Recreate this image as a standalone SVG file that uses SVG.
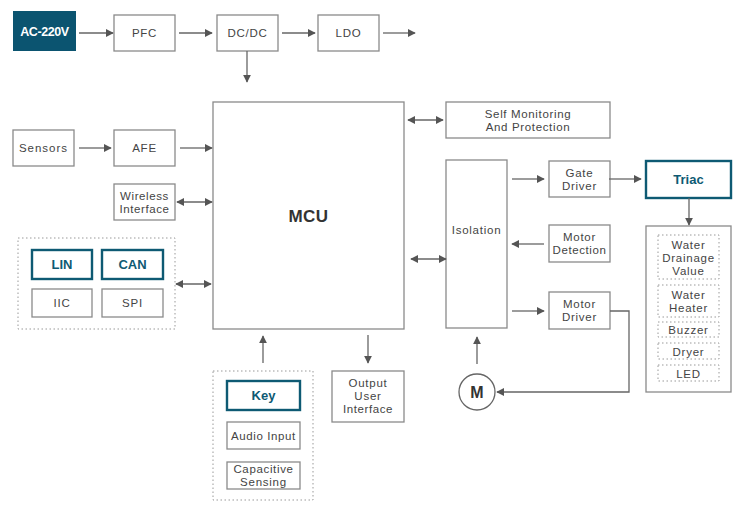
<svg xmlns="http://www.w3.org/2000/svg" width="744" height="510" viewBox="0 0 744 510">
<defs>
<marker id="ah" viewBox="0 0 10 10" refX="9" refY="5" markerWidth="8" markerHeight="8" markerUnits="userSpaceOnUse" orient="auto-start-reverse">
<path d="M0,0 L10,5 L0,10 z" fill="#555"/>
</marker>
<style>
.b{fill:#fff;stroke:#8a8a8a;stroke-width:1.3}
.t{fill:#fff;stroke:#0e5a73;stroke-width:2.4}
.d{fill:none;stroke:#999;stroke-width:1;stroke-dasharray:1.5 2.5}
.l{fill:none;stroke:#666;stroke-width:1.3}
text{font-family:"Liberation Sans",Arial,sans-serif;font-size:11.5px;fill:#444;text-anchor:middle;letter-spacing:0.75px}
.tt{fill:#0e5a73;font-size:13px;font-weight:700;letter-spacing:0}
</style>
</defs>
<rect width="744" height="510" fill="#fff"/>
<g id="ac"><rect x="13" y="11" width="63" height="40" fill="#0b5470"/><text x="44.5" y="36" style="fill:#fff;font-size:12.5px;font-weight:700;letter-spacing:-0.4px">AC-220V</text></g>
<g id="pfc"><rect class="b" x="114" y="15" width="61" height="36"/><text x="144.5" y="37">PFC</text></g>
<g id="dcdc"><rect class="b" x="217" y="15" width="61" height="36"/><text x="247.5" y="37">DC/DC</text></g>
<g id="ldo"><rect class="b" x="318" y="15" width="61" height="36"/><text x="348.5" y="37">LDO</text></g>
<g id="sensors"><rect class="b" x="13" y="130" width="61" height="36"/><text x="43.5" y="152" style="letter-spacing:1px">Sensors</text></g>
<g id="afe"><rect class="b" x="114" y="130" width="61" height="36"/><text x="144.5" y="152">AFE</text></g>
<g id="wireless"><rect class="b" x="114" y="184" width="61" height="36"/><text x="144.5" y="200" style="letter-spacing:0.6px"><tspan x="144.5">Wireless</tspan><tspan x="144.5" dy="13">Interface</tspan></text></g>
<g id="bus"><rect class="d" x="18" y="238" width="157" height="91"/>
<g id="lin"><rect class="t" x="32" y="250" width="60" height="29"/><text class="tt" x="62" y="269">LIN</text></g>
<g id="can"><rect class="t" x="102" y="250" width="61" height="29"/><text class="tt" x="132.5" y="269">CAN</text></g>
<g id="iic"><rect class="b" x="32" y="289" width="60" height="28"/><text x="62" y="307">IIC</text></g>
<g id="spi"><rect class="b" x="102" y="289" width="61" height="28"/><text x="132.5" y="307">SPI</text></g>
</g>
<g id="mcu"><rect class="b" x="213" y="102" width="191" height="227"/><text x="308.5" y="222" style="font-size:17px;font-weight:700;fill:#333;letter-spacing:0.5px">MCU</text></g>
<g id="selfmon"><rect class="b" x="446" y="102" width="164" height="36"/><text x="528" y="118" style="letter-spacing:0.65px"><tspan x="528">Self Monitoring</tspan><tspan x="528" dy="13">And Protection</tspan></text></g>
<g id="isolation"><rect class="b" x="446" y="160" width="61" height="168"/><text x="476.5" y="234">Isolation</text></g>
<g id="gate"><rect class="b" x="549" y="161" width="61" height="36"/><text x="579.5" y="177"><tspan x="579.5">Gate</tspan><tspan x="579.5" dy="13">Driver</tspan></text></g>
<g id="motordet"><rect class="b" x="549" y="225" width="61" height="37"/><text x="579.5" y="241"><tspan x="579.5">Motor</tspan><tspan x="579.5" dy="13" style="letter-spacing:0.6px">Detection</tspan></text></g>
<g id="motordrv"><rect class="b" x="549" y="292" width="61" height="37"/><text x="579.5" y="308"><tspan x="579.5">Motor</tspan><tspan x="579.5" dy="13">Driver</tspan></text></g>
<g id="triac"><rect class="t" x="646" y="161" width="85" height="37"/><text class="tt" x="688.5" y="184">Triac</text></g>
<g id="loads"><rect class="b" x="646" y="226" width="85" height="166"/>
<g id="drain"><rect class="d" x="658" y="235" width="61" height="44"/><text x="688.5" y="249"><tspan x="688.5">Water</tspan><tspan x="688.5" dy="13">Drainage</tspan><tspan x="688.5" dy="13">Value</tspan></text></g>
<g id="heater"><rect class="d" x="658" y="285" width="61" height="32"/><text x="688.5" y="298.5"><tspan x="688.5">Water</tspan><tspan x="688.5" dy="13">Heater</tspan></text></g>
<g id="buzzer"><rect class="d" x="658" y="322" width="61" height="15"/><text x="688.5" y="334">Buzzer</text></g>
<g id="dryer"><rect class="d" x="658" y="343" width="61" height="16"/><text x="688.5" y="355.5">Dryer</text></g>
<g id="led"><rect class="d" x="658" y="365" width="61" height="16"/><text x="688.5" y="377.5">LED</text></g>
</g>
<g id="motor"><circle cx="477" cy="392" r="18" fill="#fff" stroke="#666" stroke-width="1.3"/><text x="477" y="398" style="font-size:16px;font-weight:700;fill:#333;letter-spacing:0">M</text></g>
<g id="input"><rect class="d" x="213" y="371" width="100" height="129"/>
<g id="key"><rect class="t" x="227" y="381" width="73" height="29"/><text class="tt" x="263.5" y="400">Key</text></g>
<g id="audio"><rect class="b" x="227" y="422" width="73" height="27"/><text x="263.5" y="440" style="letter-spacing:0.6px">Audio Input</text></g>
<g id="cap"><rect class="b" x="227" y="462" width="73" height="27"/><text x="263.5" y="473"><tspan x="263.5" style="letter-spacing:0.65px">Capacitive</tspan><tspan x="263.5" dy="13">Sensing</tspan></text></g>
</g>
<g id="outui"><rect class="b" x="332" y="371" width="72" height="51"/><text x="368" y="387"><tspan x="368">Output</tspan><tspan x="368" dy="13">User</tspan><tspan x="368" dy="13" style="letter-spacing:0.6px">Interface</tspan></text></g>
<g id="connectors" class="l">
<line x1="79" y1="33" x2="113" y2="33" marker-end="url(#ah)"/>
<line x1="179" y1="33" x2="212" y2="33" marker-end="url(#ah)"/>
<line x1="282" y1="33" x2="315" y2="33" marker-end="url(#ah)"/>
<line x1="383" y1="33" x2="415" y2="33" marker-end="url(#ah)"/>
<line x1="247" y1="51" x2="247" y2="82" marker-end="url(#ah)"/>
<line x1="79" y1="148" x2="111" y2="148" marker-end="url(#ah)"/>
<line x1="180" y1="148" x2="212" y2="148" marker-end="url(#ah)"/>
<line x1="177" y1="202" x2="212" y2="202" marker-start="url(#ah)" marker-end="url(#ah)"/>
<line x1="176" y1="284" x2="211" y2="284" marker-start="url(#ah)" marker-end="url(#ah)"/>
<line x1="408" y1="120" x2="443" y2="120" marker-start="url(#ah)" marker-end="url(#ah)"/>
<line x1="411" y1="259" x2="446" y2="259" marker-start="url(#ah)" marker-end="url(#ah)"/>
<line x1="512" y1="179" x2="544" y2="179" marker-end="url(#ah)"/>
<line x1="609" y1="179" x2="641" y2="179" marker-end="url(#ah)"/>
<line x1="689" y1="198" x2="689" y2="225" marker-end="url(#ah)"/>
<line x1="544" y1="244" x2="512" y2="244" marker-end="url(#ah)"/>
<line x1="512" y1="311" x2="544" y2="311" marker-end="url(#ah)"/>
<polyline points="610,311 629,311 629,392 497,392" marker-end="url(#ah)"/>
<line x1="477" y1="364" x2="477" y2="337" marker-end="url(#ah)"/>
<line x1="263" y1="363" x2="263" y2="336" marker-end="url(#ah)"/>
<line x1="368" y1="335" x2="368" y2="363" marker-end="url(#ah)"/>
</g>
</svg>
